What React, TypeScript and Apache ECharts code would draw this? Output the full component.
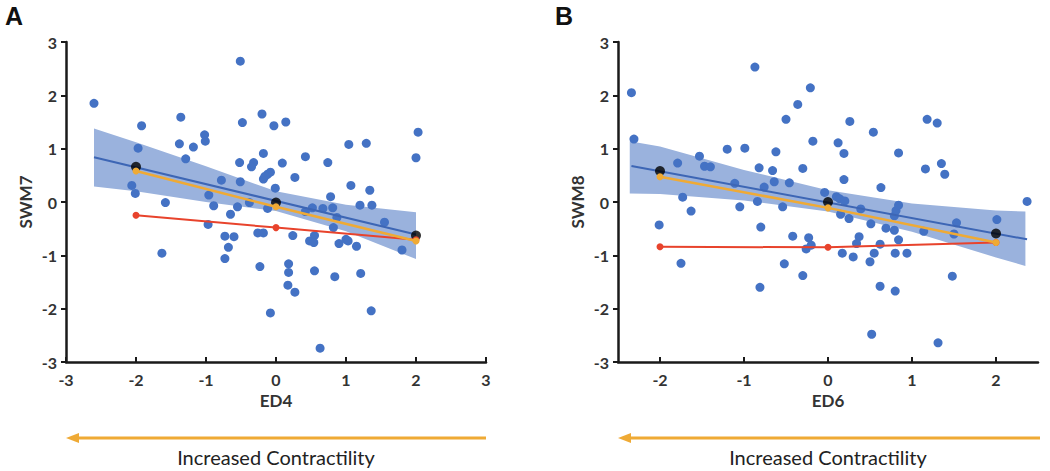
import React, { useEffect, useRef } from "react";
import * as echarts from "echarts";

// ---------- data ----------
const axisTicks = [-3, -2, -1, 0, 1, 2, 3];
const bXTicks = [-2, -1, 0, 1, 2];

const aScatterX = [
  -2.6, -0.51, -0.2, -1.36, -1.92, -0.48, -0.03, 0.14, 2.03, 2.0, -1.02, -1.01, -1.38, -1.18, -1.97, -1.29,
  -0.18, -0.52, -0.32, -0.35, 0.09, 0.42, 0.74, 1.04, 1.29, -0.78, -0.51, -0.18, -0.12, -0.08, -0.16, 0.27,
  -0.01, -2.06, -2.01, -1.58, -0.96, -0.89, -0.55, -0.38, -0.65, -0.12, 1.07, 1.34, 0.78, 1.2, 1.37, 0.52,
  0.67, 0.81, 0.42, 0.87, 1.55, -0.97, 0.82, -0.73, -0.6, -0.26, -0.18, 0.24, 0.55, 0.48, 0.54, 0.9, 1.0,
  1.03, 1.15, 1.8, -0.68, -0.73, -1.63, -0.23, 0.18, 0.18, 0.55, 0.84, 1.21, 0.17, 0.27, -0.08, 1.36, 0.63,
];
const aScatterY = [
  1.85, 2.64, 1.65, 1.59, 1.43, 1.49, 1.43, 1.5, 1.31, 0.83, 1.26, 1.14, 1.09, 1.03, 1.01, 0.81,
  0.91, 0.74, 0.74, 0.66, 0.73, 0.85, 0.74, 1.08, 1.1, 0.41, 0.38, 0.43, 0.52, 0.56, 0.48, 0.46,
  0.26, 0.31, 0.16, -0.01, 0.13, -0.07, -0.09, -0.01, -0.23, -0.12, 0.31, 0.22, 0.1, -0.06, -0.06, -0.11,
  -0.12, -0.11, -0.18, -0.29, -0.38, -0.42, -0.48, -0.64, -0.65, -0.58, -0.58, -0.63, -0.63, -0.73, -0.76, -0.78, -0.7,
  -0.73, -0.83, -0.9, -0.85, -1.06, -0.96, -1.21, -1.16, -1.32, -1.29, -1.4, -1.34, -1.56, -1.69, -2.08, -2.04, -2.74,
];

const bScatterX = [
  -2.34, -0.87, -0.21, -0.36, -0.5, 0.26, 0.54, 1.18, 1.3, -2.31, -1.2, -0.99, -0.62, -0.18, 0.12, 0.19,
  0.84, -1.53, -1.79, -1.47, -1.4, -0.82, -0.66, -0.3, 1.16, 1.35, 1.39, -1.11, -0.76, -0.64, -0.46, 0.19,
  0.63, -0.04, 0.1, 0.14, 0.2, -1.73, -1.63, -1.05, -0.84, -0.54, 0.15, 0.25, 0.39, 0.51, 0.79, 0.81,
  0.84, 0.69, 0.79, 1.14, 1.53, 1.5, 2.01, 2.37, -2.01, -0.8, -0.42, -0.23, -0.26, -0.2, 0.37, 0.34,
  0.62, 0.84, 0.17, 0.3, 0.55, 0.5, 0.8, 0.94, -1.75, -0.52, -0.3, -0.81, 0.62, 0.8, 1.48, 0.52, 1.31,
];
const bScatterY = [
  2.05, 2.53, 2.14, 1.83, 1.55, 1.51, 1.31, 1.55, 1.48, 1.18, 0.99, 1.01, 0.94, 1.14, 1.11, 0.91,
  0.92, 0.86, 0.73, 0.67, 0.66, 0.64, 0.59, 0.63, 0.62, 0.72, 0.52, 0.35, 0.28, 0.38, 0.36, 0.42,
  0.27, 0.18, 0.1, 0.06, 0.02, 0.09, -0.17, -0.09, 0.01, -0.09, -0.23, -0.31, -0.13, -0.41, -0.26, -0.16,
  -0.06, -0.49, -0.53, -0.55, -0.39, -0.6, -0.33, 0.01, -0.43, -0.47, -0.64, -0.67, -0.88, -0.81, -0.65, -0.78,
  -0.79, -0.71, -0.96, -1.03, -0.96, -1.12, -0.96, -0.96, -1.15, -1.16, -1.38, -1.6, -1.58, -1.67, -1.39, -2.48, -2.64,
];

const meanX = [-2, 0, 2];
const aBlack = [0.66, -0.01, -0.63];
const aOrange = [0.58, -0.09, -0.73];
const aRed = [-0.25, -0.48, -0.71];
const bBlack = [0.58, 0.0, -0.59];
const bOrange = [0.475, -0.11, -0.76];
const bRed = [-0.84, -0.85, -0.76];

const aFitX = [-2.6, 2.0];
const aFitY = [0.84, -0.61];
const bFitX = [-2.34, 2.37];
const bFitY = [0.675, -0.7];

const aBandX = [-2.6, -2, -1, 0, 1, 2];
const aBandUpper = [1.38, 1.12, 0.67, 0.2, -0.05, -0.19];
const aBandLower = [0.29, 0.2, 0.0, -0.17, -0.55, -1.07];
const bBandX = [-2.36, -2, -1, 0, 1, 2, 2.35];
const bBandUpper = [1.14, 1.04, 0.6, 0.22, -0.03, -0.16, -0.18];
const bBandLower = [0.16, 0.15, 0.03, -0.18, -0.56, -1.04, -1.2];

const xNames = ["ED4", "ED6"];
const yNames = ["SWM7", "SWM8"];
const panelLetters = ["A", "B"];
const arrowCaption = "Increased Contractility";

// ---------- styles ----------
const BLUE = "#4472C4";
const FIT = "#3D66B5";
const BAND = "#9AB2DD";
const ORANGE = "#EFAA35";
const RED = "#E8432C";
const TXT = "#333";
const FONT = "Lato, 'Open Sans', sans-serif";

function zip(xs: number[], ys: number[]) {
  return xs.map((x, i) => [x, ys[i]]);
}

function bandSeries(xs: number[], lo: number[], hi: number[], idx: number) {
  return {
    type: "custom",
    xAxisIndex: idx,
    yAxisIndex: idx,
    silent: true,
    z: 1,
    data: xs.map((x, i) => [x, lo[i], hi[i]]),
    encode: { x: 0, y: [1, 2] },
    renderItem: (params: any, api: any) => {
      if (params.dataIndex !== 0) return null;
      const pts: number[][] = [];
      for (let i = 0; i < xs.length; i++) pts.push(api.coord([xs[i], hi[i]]));
      for (let i = xs.length - 1; i >= 0; i--) pts.push(api.coord([xs[i], lo[i]]));
      return { type: "polygon", shape: { points: pts }, style: { fill: BAND } };
    },
  };
}

function panelSeries(
  idx: number,
  sx: number[], sy: number[],
  fx: number[], fy: number[],
  black: number[], orange: number[], red: number[],
  bx: number[], bl: number[], bu: number[]
) {
  return [
    bandSeries(bx, bl, bu, idx),
    {
      type: "scatter", xAxisIndex: idx, yAxisIndex: idx, z: 2,
      data: zip(sx, sy), symbolSize: 9,
      itemStyle: { color: BLUE, opacity: 1 },
    },
    {
      type: "line", xAxisIndex: idx, yAxisIndex: idx, z: 3,
      data: zip(fx, fy), symbol: "none",
      lineStyle: { color: FIT, width: 2 },
    },
    {
      type: "scatter", xAxisIndex: idx, yAxisIndex: idx, z: 4,
      data: zip(meanX, black), symbolSize: 10,
      itemStyle: { color: "#000" },
    },
    {
      type: "line", xAxisIndex: idx, yAxisIndex: idx, z: 5,
      data: zip(meanX, red), symbol: "circle", symbolSize: 7, showSymbol: true,
      lineStyle: { color: RED, width: 2 }, itemStyle: { color: RED },
    },
    {
      type: "line", xAxisIndex: idx, yAxisIndex: idx, z: 6,
      data: zip(meanX, orange), symbol: "circle", symbolSize: 7, showSymbol: true,
      lineStyle: { color: ORANGE, width: 2.5 }, itemStyle: { color: ORANGE },
    },
  ];
}

const labelStyle = { fontFamily: FONT, fontWeight: "bold", fontSize: 16, color: TXT };
const nameStyle = { fontFamily: FONT, fontWeight: "bold", fontSize: 17, color: TXT };

function xAxisCfg(idx: number) {
  const isB = idx === 1;
  return {
    type: "value",
    gridIndex: idx,
    min: isB ? -2.5 : -3,
    max: isB ? 2.5 : 3,
    interval: isB ? undefined : 1,
    name: xNames[idx],
    nameLocation: "middle",
    nameGap: 30,
    nameTextStyle: nameStyle,
    splitLine: { show: false },
    axisLine: { onZero: false, lineStyle: { color: "#1a1a1a", width: 2.5 } },
    axisTick: isB
      ? { inside: true, length: 5, lineStyle: { color: "#1a1a1a", width: 2 }, customValues: bXTicks }
      : { inside: true, length: 5, lineStyle: { color: "#1a1a1a", width: 2 } },
    axisLabel: isB
      ? { ...labelStyle, margin: 9, customValues: bXTicks }
      : { ...labelStyle, margin: 9 },
  };
}

function yAxisCfg(idx: number) {
  return {
    type: "value",
    gridIndex: idx,
    min: axisTicks[0],
    max: axisTicks[axisTicks.length - 1],
    interval: 1,
    name: yNames[idx],
    nameLocation: "middle",
    nameGap: 32,
    nameRotate: 90,
    nameTextStyle: nameStyle,
    splitLine: { show: false },
    axisLine: { onZero: false, lineStyle: { color: "#1a1a1a", width: 2.5 } },
    axisTick: { inside: false, length: 5, lineStyle: { color: "#1a1a1a", width: 2 } },
    axisLabel: { ...labelStyle, margin: 9 },
  };
}

function arrow(x1: number, x2: number, y: number) {
  return [
    { type: "line", shape: { x1: x1 + 8, y1: y, x2, y2: y }, style: { stroke: ORANGE, lineWidth: 3 } },
    {
      type: "polygon",
      shape: { points: [[x1, y], [x1 + 13, y - 5], [x1 + 13, y + 5]] },
      style: { fill: ORANGE },
    },
  ];
}

export default function App() {
  const ref = useRef<HTMLDivElement>(null);
  useEffect(() => {
    if (!ref.current) return;
    const chart = echarts.init(ref.current, undefined, { renderer: "svg" });
    chart.setOption({
      animation: false,
      backgroundColor: "#fff",
      grid: [
        { left: 66, top: 42, width: 420, height: 320 },
        { left: 618, top: 42, width: 420, height: 320 },
      ],
      xAxis: [xAxisCfg(0), xAxisCfg(1)],
      yAxis: [yAxisCfg(0), yAxisCfg(1)],
      series: [
        ...panelSeries(0, aScatterX, aScatterY, aFitX, aFitY, aBlack, aOrange, aRed, aBandX, aBandLower, aBandUpper),
        ...panelSeries(1, bScatterX, bScatterY, bFitX, bFitY, bBlack, bOrange, bRed, bBandX, bBandLower, bBandUpper),
      ],
      graphic: [
        { type: "text", left: 5, top: 3, style: { text: panelLetters[0], font: "bold 25px 'Liberation Sans', Arial, sans-serif", fill: "#111" } },
        { type: "text", left: 555, top: 3, style: { text: panelLetters[1], font: "bold 25px 'Liberation Sans', Arial, sans-serif", fill: "#111" } },
        ...arrow(66, 486, 438),
        ...arrow(618, 1040, 438),
        {
          type: "text", x: 276, y: 457,
          style: { text: arrowCaption, font: `20px ${FONT}`, fill: "#222", align: "center", verticalAlign: "middle" },
        },
        {
          type: "text", x: 828, y: 457,
          style: { text: arrowCaption, font: `20px ${FONT}`, fill: "#222", align: "center", verticalAlign: "middle" },
        },
      ],
    });
    return () => chart.dispose();
  }, []);
  return (
    <div
      ref={ref}
      style={{ position: "fixed", left: 0, top: 0, width: 1050, height: 471 }}
    />
  );
}
